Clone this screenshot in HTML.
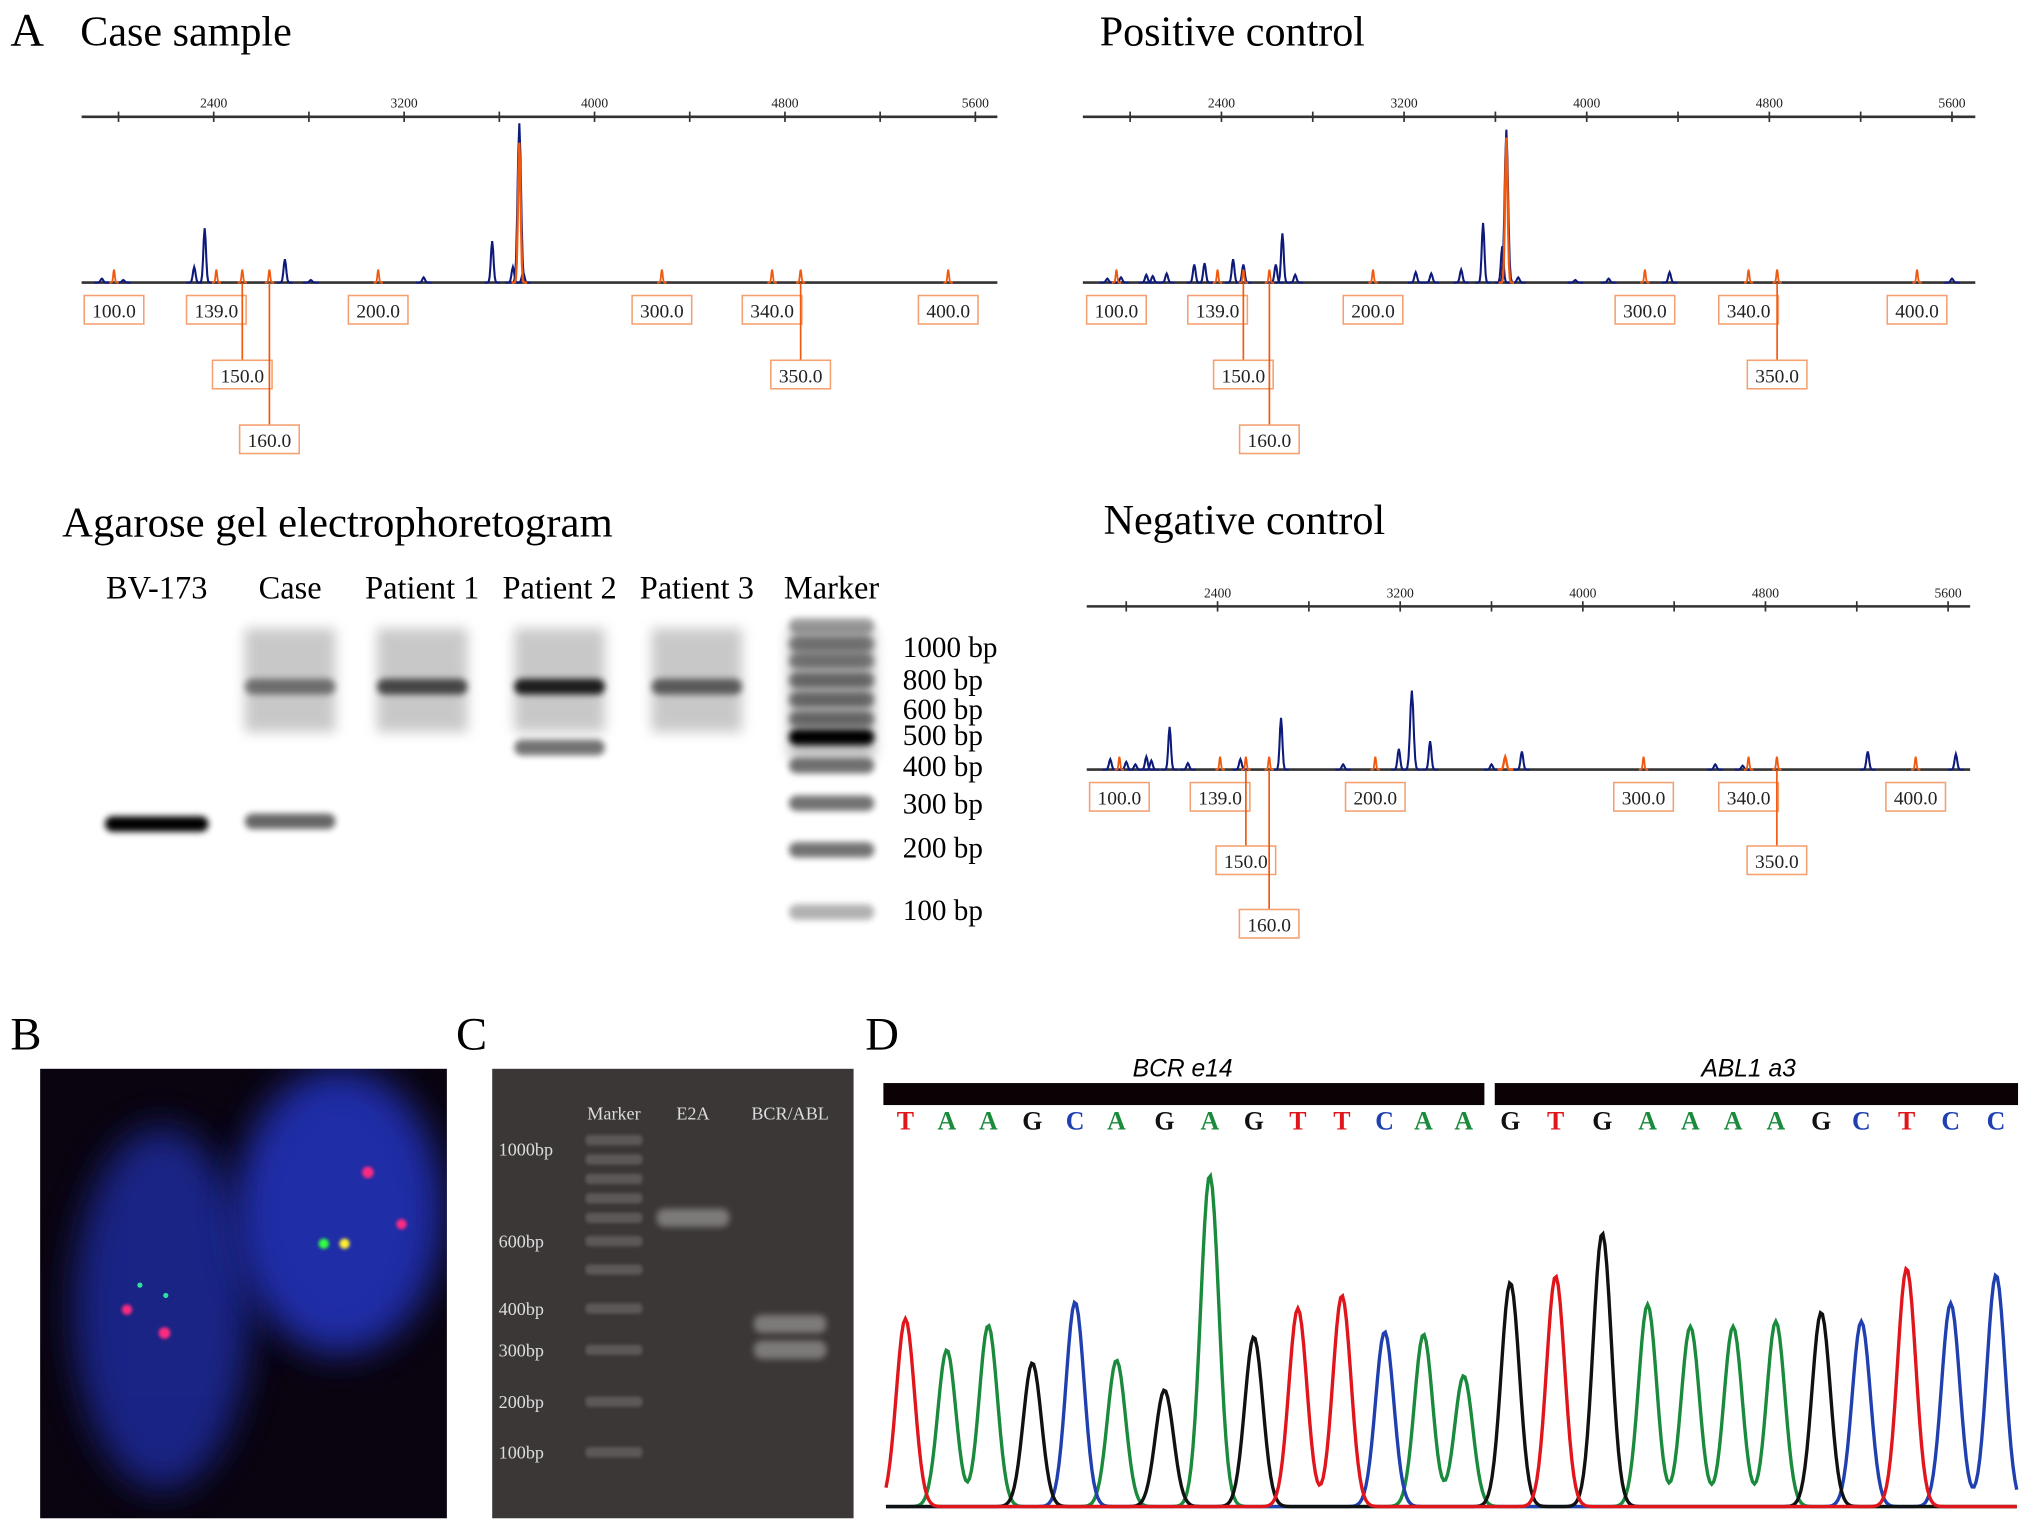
<!DOCTYPE html>
<html><head><meta charset="utf-8"><style>
html,body{margin:0;padding:0;background:#fff;}
svg{display:block;}
text{font-family:"Liberation Serif",serif;}
</style></head><body>
<svg id="fig" width="2031" height="1534" viewBox="0 0 1568 1184" xmlns="http://www.w3.org/2000/svg">
<defs>
<filter id="blur2" x="-50%" y="-50%" width="200%" height="200%"><feGaussianBlur stdDeviation="2.5"/></filter>
<filter id="blur4" x="-50%" y="-50%" width="200%" height="200%"><feGaussianBlur stdDeviation="5"/></filter>
<filter id="blur10" x="-50%" y="-50%" width="200%" height="200%"><feGaussianBlur stdDeviation="14"/></filter>
<filter id="blur1" x="-50%" y="-50%" width="200%" height="200%"><feGaussianBlur stdDeviation="1.3"/></filter>
<clipPath id="clipB"><rect x="31" y="825" width="314" height="347"/></clipPath>
</defs>
<g id="panelA">
<text x="8" y="35" font-size="36">A</text>
<text x="62" y="35" font-size="32.5">Case sample</text>
<text x="849" y="35" font-size="32.5">Positive control</text>
<text x="852" y="412" font-size="32.5">Negative control</text>
<g id="fa1"></g>
<g id="fa2"></g>
<g id="fa3"></g>

<text x="48" y="414" font-size="33">Agarose gel electrophoretogram</text>
<g id="gel"></g>
</g>

<g id="panelB">
<text x="8" y="810" font-size="36">B</text>
<rect x="31" y="825" width="314" height="347" fill="#0a0410"/>
<g clip-path="url(#clipB)">
<ellipse cx="125" cy="1010" rx="68" ry="140" fill="#1f2a9a" opacity="0.85" filter="url(#blur10)"/>
<ellipse cx="262" cy="935" rx="80" ry="110" fill="#2233b8" opacity="0.9" filter="url(#blur10)"/>
<circle cx="284" cy="905" r="4.5" fill="#ff2a80" filter="url(#blur1)"/>
<circle cx="310" cy="945" r="4" fill="#ff2a80" filter="url(#blur1)"/>
<circle cx="250" cy="960" r="4" fill="#30ff40" filter="url(#blur1)"/>
<circle cx="266" cy="960" r="4" fill="#ffee30" filter="url(#blur1)"/>
<circle cx="98" cy="1011" r="4" fill="#ff2a80" filter="url(#blur1)"/>
<circle cx="127" cy="1029" r="4.5" fill="#ff2a80" filter="url(#blur1)"/>
<circle cx="108" cy="992" r="2" fill="#30e0a0"/>
<circle cx="128" cy="1000" r="2" fill="#30e0a0"/>
</g>
</g>

<g id="panelC">
<text x="352" y="810" font-size="36">C</text>
<rect x="380" y="825" width="279" height="347" fill="#3b3737"/>
<g id="gelc"></g>
</g>

<g id="panelD">
<text x="668" y="810" font-size="36">D</text>
<rect x="682" y="836" width="464" height="17" fill="#0a0205"/>
<rect x="1154" y="836" width="404" height="17" fill="#0a0205"/>
<text x="913" y="831" font-size="19" font-style="italic" text-anchor="middle" style="font-family:'Liberation Sans',sans-serif">BCR  e14</text>
<text x="1350" y="831" font-size="19" font-style="italic" text-anchor="middle" style="font-family:'Liberation Sans',sans-serif">ABL1 a3</text>
<g id="seq"></g>
</g>
</svg>
<script>
const NS="http://www.w3.org/2000/svg";
function el(tag,attrs,parent){const e=document.createElementNS(NS,tag);for(const k in attrs)e.setAttribute(k,attrs[k]);if(parent)parent.appendChild(e);return e;}

// ===== Fragment analysis data =====
const scanTicks=[2000,2400,2800,3200,3600,4000,4400,4800,5200,5600];
const scanTickLabels=["2400","3200","4000","4800","5600"];
const markerLabels=["100.0","139.0","150.0","160.0","200.0","300.0","340.0","350.0","400.0"];
const markerRows=[0,0,1,2,0,0,0,1,0];
const casePeakScans=[1930,2020,2318,2362,2699,2808,3282,3570,3657,3684,3700];
const casePeakHeights=[3,2,12,42,18,2,4,32,12,123,8];
const caseOrangeScans=[3684];const caseOrangeHeights=[108];
const caseMarkerScans=[1981,2411,2520,2634,3091,4283,4746,4866,5486];
const posPeakScans=[1900,1960,2071,2099,2160,2281,2326,2451,2496,2638,2667,2723,3251,3319,3450,3546,3630,3648,3700,3950,4096,4363,5600];
const posPeakHeights=[3,4,6,5,7,14,15,18,14,14,38,6,8,7,10,46,28,118,4,2,3,8,3];
const posOrangeScans=[3648];const posOrangeHeights=[112];
const posMarkerScans=[1940,2383,2496,2610,3064,4255,4709,4834,5447];
const negPeakScans=[1930,2000,2040,2088,2110,2190,2270,2500,2678,2950,3194,3251,3331,3600,3733,4580,4700,5248,5634];
const negPeakHeights=[8,6,4,10,7,33,5,8,40,4,16,61,22,4,14,4,3,14,12];
const negOrangeScans=[3660];const negOrangeHeights=[10];
const negMarkerScans=[1970,2411,2524,2626,3091,4266,4726,4850,5458];

function gaussPath(xc,h,base,w){let d="";for(let i=-3*w;i<=3*w;i+=w/3){const y=base-h*Math.exp(-(i*i)/(2*w*w/4));d+=(d?"L":"M")+(xc+i).toFixed(2)+","+y.toFixed(2);}return d;}

function drawFA(gid,cfg,peaks,heights,oscans,oheights,mscans){
  const g=document.getElementById(gid);
  const X=s=>cfg.x2400+(s-2400)*cfg.ppu;
  const ax=el("line",{x1:cfg.xl,x2:cfg.xr,y1:cfg.axisY,y2:cfg.axisY,stroke:"#333","stroke-width":2},g);
  
  
  scanTicks.forEach((s,i)=>{
    const t=el("line",{x1:X(s),x2:X(s),y1:cfg.axisY-4,y2:cfg.axisY+4,stroke:"#333","stroke-width":1.3},g);
    
    
  });
  scanTickLabels.forEach(l=>{
    const tx=el("text",{x:X(+l),y:cfg.axisY-7,"font-size":10.5,"text-anchor":"middle",fill:"#222"},g);tx.textContent=l;
    
    
  });
  const bl=el("line",{x1:cfg.xl,x2:cfg.xr,y1:cfg.baseY,y2:cfg.baseY,stroke:"#333","stroke-width":2},g);
  
  
  peaks.forEach((s,i)=>{
    const p=el("path",{d:gaussPath(X(s),heights[i],cfg.baseY,heights[i]>50?2.6:2),fill:"none",stroke:"#0d1a7a","stroke-width":1.6},g);
    
    
  });
  oscans.forEach((s,i)=>{
    const p=el("path",{d:gaussPath(X(s),oheights[i],cfg.baseY,2),fill:"none",stroke:"#f05a10","stroke-width":1.8},g);
    
    
  });
  mscans.forEach((s,i)=>{
    const x=X(s);
    const m=el("path",{d:gaussPath(x,10,cfg.baseY,1.2),fill:"none",stroke:"#f05a10","stroke-width":1.4},g);
    
    
    const r=markerRows[i];const by=cfg.baseY+10+r*cfg.rowGap;
    if(r>0){const c=el("line",{x1:x,x2:x,y1:cfg.baseY,y2:by,stroke:"#f05a10","stroke-width":1.3},g);
      
      }
    const b=el("rect",{x:x-23,y:by,width:46,height:22,fill:"#fff",stroke:"#f5a070","stroke-width":1.2},g);
    
    
    const t=el("text",{x:x,y:by+17,"font-size":15,"text-anchor":"middle",fill:"#222"},g);t.textContent=markerLabels[i];
    
    
  });
}
drawFA("fa1",{xl:63,xr:770,x2400:165,ppu:147/800,axisY:90,baseY:218,rowGap:50},casePeakScans,casePeakHeights,caseOrangeScans,caseOrangeHeights,caseMarkerScans);
drawFA("fa2",{xl:836,xr:1525,x2400:943,ppu:141/800,axisY:90,baseY:218,rowGap:50},posPeakScans,posPeakHeights,posOrangeScans,posOrangeHeights,posMarkerScans);
drawFA("fa3",{xl:839,xr:1521,x2400:940,ppu:141/800,axisY:468,baseY:594,rowGap:49},negPeakScans,negPeakHeights,negOrangeScans,negOrangeHeights,negMarkerScans);

// ===== Agarose gel =====
const laneNames=["BV-173","Case","Patient 1","Patient 2","Patient 3","Marker"];
const laneCenters=[121,224,326,432,538,642];
const bpLabels=["1000 bp","800 bp","600 bp","500 bp","400 bp","300 bp","200 bp","100 bp"];
const bpY=[500,525,548,568,592,621,655,703];
const bandLane=[0,1,1,2,3,3,4,5,5,5,5,5,5,5,5,5,5,5];
const bandY=[636,634,530,530,530,577,530,497,510,525,540,555,569,591,620,656,704,483];
const bandAlpha=[1,0.6,0.45,0.65,0.85,0.55,0.55,0.4,0.4,0.45,0.45,0.45,1,0.55,0.55,0.55,0.3,0.35];
(function(){
  const g=document.getElementById("gel");
  laneNames.forEach((n,i)=>{
    const t=el("text",{x:laneCenters[i],y:462,"font-size":25,"text-anchor":"middle"},g);t.textContent=n;
    
    
  });
  bpLabels.forEach((l,i)=>{
    const t=el("text",{x:697,y:bpY[i]+7,"font-size":22.5},g);t.textContent=l;
    
    
  });
  [1,2,3,4].forEach(i=>{
    const s=el("rect",{x:laneCenters[i]-35,y:485,width:70,height:80,fill:"#777",opacity:0.4,filter:"url(#blur4)"},g);
    
    
  });
  const ms=el("rect",{x:laneCenters[5]-33,y:485,width:66,height:100,fill:"#666",opacity:0.45,filter:"url(#blur4)"},g);
  
  
  bandLane.forEach((ln,i)=>{
    const w=ln===0?80:(ln===5?66:70);
    const b=el("rect",{x:laneCenters[ln]-w/2,y:bandY[i]-6,width:w,height:12,rx:6,fill:"#000",opacity:bandAlpha[i],filter:"url(#blur2)"},g);
    
    
  });
})();

// ===== Panel C gel =====
const cLaneNames=["Marker","E2A","BCR/ABL"];
const cLaneX=[474,535,610];
const cBpLabels=["1000bp","600bp","400bp","300bp","200bp","100bp"];
const cBpY=[887,958,1010,1042,1082,1121];
const cBandLane=[1,2,2];
const cBandY=[940,1022,1042];
const cLadderY=[880,895,910,925,940,958,980,1010,1042,1082,1121];
(function(){
  const g=document.getElementById("gelc");
  cLaneNames.forEach((n,i)=>{
    const t=el("text",{x:cLaneX[i],y:864,"font-size":14,"text-anchor":"middle",fill:"#ddd"},g);t.textContent=n;
    
    
  });
  cBpLabels.forEach((l,i)=>{
    const t=el("text",{x:385,y:cBpY[i]+5,"font-size":14,fill:"#ddd"},g);t.textContent=l;
    
    
  });
  cLadderY.forEach(y=>{
    const b=el("rect",{x:452,y:y-4,width:44,height:8,rx:3,fill:"#6a6666",opacity:0.7,filter:"url(#blur1)"},g);
    
    
  });
  cBandLane.forEach((ln,i)=>{
    const b=el("rect",{x:cLaneX[ln]-28,y:cBandY[i]-7,width:56,height:14,rx:6,fill:"#9a9696",opacity:0.7,filter:"url(#blur2)"},g);
    
    
  });
})();

// ===== Sanger chromatogram =====
const bases=["T","A","A","G","C","A","G","A","G","T","T","C","A","A","G","T","G","A","A","A","A","G","C","T","C","C"];
const baseX=[699,731,763,797,830,862,899,934,968,1002,1036,1069,1099,1130,1166,1201,1237,1272,1305,1338,1371,1406,1437,1472,1506,1541];
const peakTop=[1018,1042,1023,1052,1005,1050,1073,907,1032,1010,1000,1028,1030,1062,990,985,952,1007,1024,1024,1020,1013,1020,979,1006,984];
const baseColors={A:"#1a8a3c",C:"#2040b0",G:"#111",T:"#e0161c"};
(function(){
  const g=document.getElementById("seq");
  const baseY=1163;
  bases.forEach((b,i)=>{
    const t=el("text",{x:baseX[i],y:872,"font-size":20,"font-weight":"bold","text-anchor":"middle",fill:baseColors[b]},g);t.textContent=b;
    
    
  });
  ["A","C","G","T"].forEach(c=>{
    let d="";
    for(let x=684;x<=1558;x+=1.5){
      let y=0;
      bases.forEach((b,i)=>{if(b===c){const dx=x-baseX[i];y+=(baseY-peakTop[i])*Math.exp(-dx*dx/(2*7*7));}});
      d+=(d?"L":"M")+x.toFixed(1)+","+(baseY-y).toFixed(1);
    }
    const p=el("path",{d:d,fill:"none",stroke:baseColors[c],"stroke-width":2.6},g);
    
    
  });
})();
</script>
</body></html>
